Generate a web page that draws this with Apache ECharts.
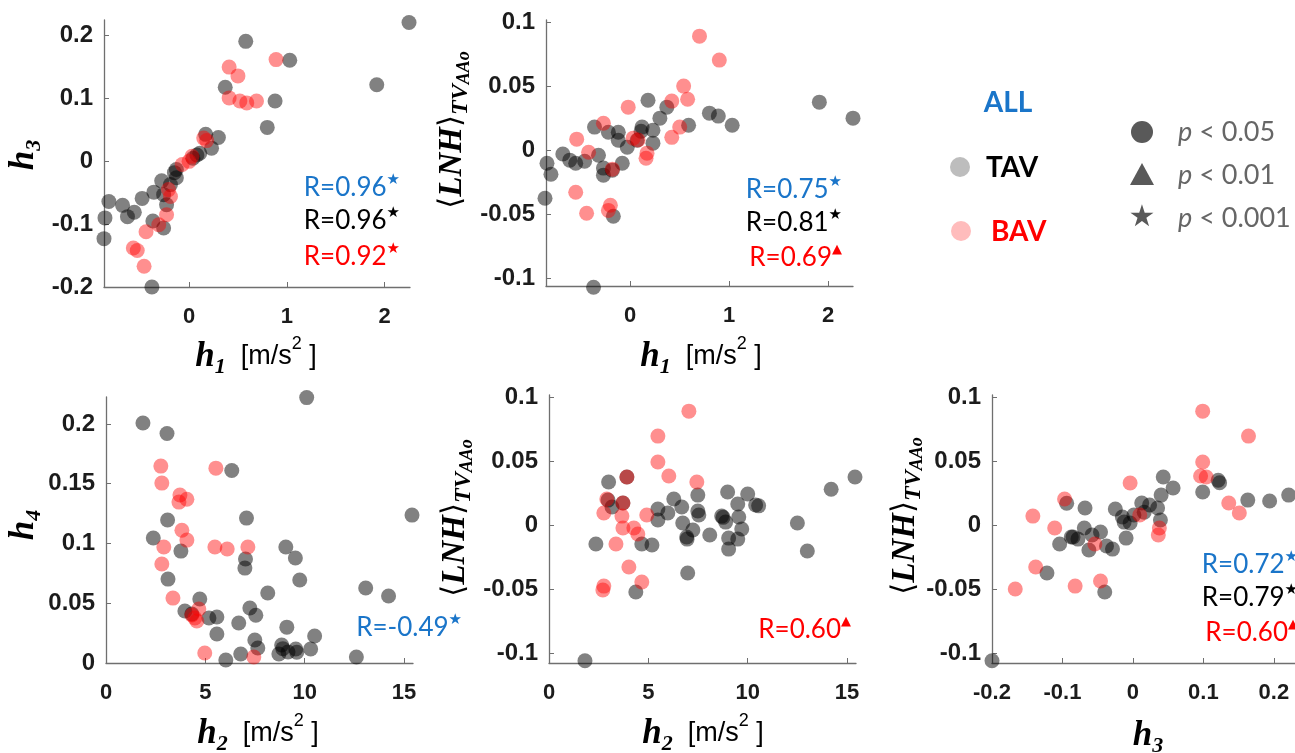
<!DOCTYPE html>
<html><head><meta charset="utf-8">
<script src="https://cdn.jsdelivr.net/npm/echarts@6/dist/echarts.min.js"></script>
<style>html,body{margin:0;padding:0;background:#fff}#c{width:1295px;height:753px}</style>
</head><body><div id="c"></div>
<script>
// ---------- DATA ----------
const h1Ticks = [0, 1, 2];
const h2Ticks = [0, 5, 10, 15];
const h3xTicks = [-0.2, -0.1, 0, 0.1, 0.2];
const h3yTicks = [-0.2, -0.1, 0, 0.1, 0.2];
const h4Ticks = [0, 0.05, 0.1, 0.15, 0.2];
const lnhTicks = [-0.1, -0.05, 0, 0.05, 0.1];

// Panel 1: h1 vs h3
const p1TAV = [[2.25,0.221],[0.58,0.191],[1.03,0.161],[1.92,0.122],[0.37,0.118],[0.88,0.096],[0.80,0.054],[0.17,0.043],[0.30,0.038],[0.23,0.021],[0.11,0.013],[0.08,0.010],[0.04,0.005],[-0.13,-0.013],[-0.15,-0.018],[-0.13,-0.026],[-0.28,-0.031],[-0.19,-0.037],[-0.26,-0.053],[-0.23,-0.069],[-0.36,-0.049],[-0.48,-0.059],[-0.68,-0.070],[-0.56,-0.081],[-0.63,-0.088],[-0.82,-0.064],[-0.86,-0.090],[-0.87,-0.123],[-0.37,-0.095],[-0.26,-0.106],[-0.38,-0.200]];
const p1BAV = [[0.89,0.162],[0.41,0.150],[0.50,0.136],[0.41,0.101],[0.52,0.096],[0.59,0.093],[0.69,0.096],[0.15,0.037],[0.18,0.033],[0.03,0.008],[0.00,0.000],[-0.07,-0.005],[-0.21,-0.045],[-0.19,-0.056],[-0.23,-0.085],[-0.31,-0.101],[-0.44,-0.112],[-0.57,-0.138],[-0.53,-0.142],[-0.46,-0.167]];

// Panel 2: h1 vs <LNH>
const p2TAV = [[2.25,0.025],[1.91,0.0375],[1.03,0.0195],[0.89,0.0266],[0.80,0.0289],[0.59,0.0195],[0.37,0.0336],[0.30,0.025],[0.18,0.039],[0.23,0.0156],[0.23,0.0055],[0.12,0.018],[0.11,0.0148],[0.07,0.0078],[-0.03,0.0023],[-0.12,0.014],[-0.12,0.0078],[-0.22,0.014],[-0.36,0.018],[-0.32,-0.004],[-0.27,-0.014],[-0.27,-0.0195],[-0.18,-0.0156],[-0.08,-0.0102],[-0.68,-0.003],[-0.61,-0.0078],[-0.55,-0.0102],[-0.46,-0.0086],[-0.84,-0.0102],[-0.80,-0.0188],[-0.86,-0.0375],[-0.17,-0.0516],[-0.37,-0.107]];
const p2BAV = [[0.70,0.089],[0.90,0.0703],[0.54,0.050],[0.58,0.0398],[0.42,0.0383],[0.50,0.018],[0.42,0.010],[-0.02,0.0336],[-0.27,0.021],[-0.54,0.0086],[-0.42,-0.0016],[0.03,0.0094],[0.08,0.008],[0.17,-0.0023],[0.16,-0.0063],[-0.18,-0.0148],[-0.55,-0.0328],[-0.44,-0.0492],[-0.20,-0.043],[-0.22,-0.047]];

// Panel 3: h2 vs h4
const p3TAV = [[10.1,0.222],[1.86,0.2007],[3.07,0.192],[6.33,0.161],[15.4,0.1237],[3.1,0.1196],[7.07,0.1212],[2.38,0.1045],[3.77,0.0936],[7.02,0.087],[6.99,0.0794],[9.05,0.097],[9.53,0.0878],[9.75,0.0694],[3.12,0.0702],[13.07,0.0627],[14.22,0.056],[8.14,0.0585],[4.72,0.0535],[3.97,0.0435],[4.32,0.041],[7.24,0.046],[7.54,0.040],[5.18,0.0376],[5.58,0.0385],[6.68,0.0334],[5.58,0.0242],[9.1,0.030],[10.5,0.0226],[7.49,0.0192],[7.64,0.0125],[8.84,0.015],[8.9,0.012],[8.7,0.0075],[9.16,0.0092],[9.55,0.0117],[9.6,0.009],[10.3,0.0117],[6.78,0.0075],[6.03,0.0025],[12.6,0.005]];
const p3BAV = [[5.53,0.163],[2.76,0.1647],[2.81,0.1505],[3.72,0.1405],[3.67,0.1346],[4.07,0.137],[3.82,0.111],[4.07,0.1028],[2.91,0.097],[5.48,0.097],[6.1,0.0953],[7.14,0.097],[2.81,0.0828],[3.37,0.0543],[4.67,0.0452],[4.32,0.0401],[4.47,0.0376],[4.57,0.0351],[4.97,0.0084],[7.44,0.005]];

// Panel 4: h2 vs <LNH>
const p4TAV = [[1.81,-0.106],[2.36,-0.0148],[3.0,0.0336],[2.97,0.0195],[3.17,0.0141],[3.72,0.0172],[3.92,0.0375],[4.67,-0.0148],[5.18,-0.0156],[4.37,-0.0523],[5.48,0.0125],[5.48,0.0039],[5.98,0.0094],[6.28,0.0203],[6.68,0.0141],[6.73,0.0016],[7.24,-0.0039],[6.93,-0.0094],[6.95,-0.011],[6.98,-0.0375],[7.49,0.0234],[7.49,0.011],[7.54,0.0078],[8.09,-0.0078],[8.69,0.007],[8.76,0.006],[8.89,0.0023],[8.99,0.0258],[9.04,-0.0102],[9.04,-0.0188],[9.5,0.0164],[9.55,0.0063],[9.5,-0.011],[9.7,-0.0031],[10.0,0.0242],[10.4,0.0156],[10.55,0.015],[12.5,0.0016],[13.0,-0.0203],[14.2,0.028],[15.4,0.0375]];
const p4BAV = [[7.04,0.089],[5.48,0.0695],[5.48,0.0492],[6.03,0.0383],[7.44,0.0336],[3.92,0.0375],[2.91,0.0203],[3.72,0.0172],[2.76,0.0094],[3.67,0.007],[4.92,0.0078],[3.72,-0.0023],[4.27,-0.0023],[4.47,-0.007],[3.37,-0.0148],[4.02,-0.0328],[4.67,-0.0445],[2.76,-0.0477],[2.71,-0.0508]];

// Panel 5: h3 vs <LNH>
const p5TAV = [[-0.2,-0.106],[-0.122,-0.0375],[-0.104,-0.0148],[-0.094,0.017],[-0.0875,-0.0094],[-0.085,-0.0094],[-0.078,-0.011],[-0.068,0.0133],[-0.069,-0.0023],[-0.0625,-0.0195],[-0.058,-0.0078],[-0.046,-0.0055],[-0.040,-0.0523],[-0.0375,-0.0164],[-0.029,-0.0188],[-0.025,0.0125],[-0.0097,-0.0102],[-0.015,0.0063],[-0.0125,0.0023],[-0.004,0.0016],[0.0014,0.0078],[0.0125,0.0172],[0.016,0.010],[0.0236,0.0156],[0.035,0.0133],[0.039,0.0039],[0.040,0.0234],[0.043,0.0375],[0.057,0.0289],[0.099,0.0258],[0.121,0.035],[0.123,0.033],[0.163,0.0195],[0.194,0.0188],[0.221,0.0234]];
const p5BAV = [[0.099,0.089],[0.164,0.0695],[0.099,0.0492],[0.096,0.0383],[0.104,0.0375],[0.136,0.0172],[0.151,0.0094],[-0.004,0.0328],[-0.097,0.0203],[-0.142,0.007],[-0.111,-0.0023],[-0.054,-0.0148],[0.0097,0.0078],[0.0375,-0.0023],[0.036,-0.0078],[-0.138,-0.0328],[-0.167,-0.050],[-0.082,-0.0477],[-0.046,-0.0437]];

// Correlation annotations
const rLabels = [
  {panel:0, items:[['R=0.96','★','all'],['R=0.96','★','tav'],['R=0.92','★','bav']]},
  {panel:1, items:[['R=0.75','★','all'],['R=0.81','★','tav'],['R=0.69','▲','bav']]},
  {panel:2, items:[['R=-0.49','★','all']]},
  {panel:3, items:[['R=0.60','▲','bav']]},
  {panel:4, items:[['R=0.72','★','all'],['R=0.79','★','tav'],['R=0.60','▲','bav']]}
];

// ---------- STYLE / LAYOUT ----------
const BLUE = '#1a75c9', RED = '#ff0000', BLACK = '#000000';
const groupColor = {all: BLUE, tav: BLACK, bav: RED};
const TAV_FILL = 'rgba(0,0,0,0.62)';
const BAV_FILL = 'rgba(255,0,0,0.55)';
const AXIS_C = '#6f6f6f';

const grids = [
  {left:104, top:20, width:306, height:267},
  {left:546, top:20, width:307, height:266},
  {left:106, top:397, width:307, height:266},
  {left:549, top:395, width:307, height:268},
  {left:992, top:395, width:310, height:268}
];
const xCfg = [
  {min:-0.87, max:2.26, ticks:h1Ticks},
  {min:-0.85, max:2.25, ticks:h1Ticks},
  {min:0, max:15.45, ticks:h2Ticks},
  {min:0, max:15.45, ticks:h2Ticks},
  {min:-0.2, max:0.23, ticks:h3xTicks}
];
const yCfg = [
  {min:-0.2, max:0.225, ticks:h3yTicks},
  {min:-0.106, max:0.1016, ticks:lnhTicks},
  {min:0, max:0.2225, ticks:h4Ticks},
  {min:-0.1078, max:0.1016, ticks:lnhTicks},
  {min:-0.1078, max:0.1016, ticks:lnhTicks}
];
function fmt(v){ const r = Math.round(v*1000)/1000; return String(r); }

const xAxis = xCfg.map((c,i)=>({
  gridIndex:i, type:'value', min:c.min, max:c.max,
  axisLine:{show:true, onZero:false, lineStyle:{color:AXIS_C, width:1.3}},
  axisTick:{show:true, inside:true, length:5, customValues:c.ticks, lineStyle:{color:AXIS_C}},
  axisLabel:{customValues:c.ticks, formatter:fmt, fontFamily:'Liberation Sans', fontWeight:'bold', fontSize:22, color:'#1c1c1c', margin:19},
  splitLine:{show:false}
}));
const yAxis = yCfg.map((c,i)=>({
  gridIndex:i, type:'value', min:c.min, max:c.max,
  axisLine:{show:true, onZero:false, lineStyle:{color:AXIS_C, width:1.3}},
  axisTick:{show:true, inside:true, length:5, customValues:c.ticks, lineStyle:{color:AXIS_C}},
  axisLabel:{customValues:c.ticks, formatter:fmt, fontFamily:'Liberation Sans', fontWeight:'bold', fontSize:24, color:'#1c1c1c', margin:11},
  splitLine:{show:false}
}));

const panels = [[p1TAV,p1BAV],[p2TAV,p2BAV],[p3TAV,p3BAV],[p4TAV,p4BAV],[p5TAV,p5BAV]];
const series = [];
panels.forEach((p,i)=>{
  series.push({type:'scatter', xAxisIndex:i, yAxisIndex:i, data:p[0], symbol:'circle', symbolSize:15, clip:false, itemStyle:{color:TAV_FILL}, silent:true, z:2});
  series.push({type:'scatter', xAxisIndex:i, yAxisIndex:i, data:p[1], symbol:'circle', symbolSize:15, clip:false, itemStyle:{color:BAV_FILL}, silent:true, z:3});
});

// ---------- TEXT ----------
const serifBI = {fontFamily:'Liberation Serif, DejaVu Serif', fontWeight:'bold', fontStyle:'italic'};
function hRich(sz){
  return {
    h:Object.assign({fontSize:sz, lineHeight:sz+8, fill:'#000'}, serifBI),
    sub:Object.assign({fontSize:Math.round(sz*0.62), lineHeight:Math.round(sz*0.62), verticalAlign:'bottom', fill:'#000'}, serifBI),
    u:{fontFamily:'Liberation Sans', fontSize:27, lineHeight:sz+8, fill:'#000'},
    sup:{fontFamily:'Liberation Sans', fontSize:18, lineHeight:14, verticalAlign:'top', fill:'#000'}
  };
}
const graphic = [];
function xTitle(cx, cy, idx, unit){
  const t = unit ? `{h|h}{sub|${idx}}{u|  [m/s}{sup|2}{u| ]}` : `{h|h}{sub|${idx}}`;
  graphic.push({type:'text', x:cx, y:cy, z:50, silent:true, style:{text:t, rich:hRich(35), align:'center', verticalAlign:'middle'}});
}
function yTitleH(cx, cy, idx){
  graphic.push({type:'text', x:cx, y:cy, rotation:Math.PI/2, z:50, silent:true, style:{text:`{h|h}{sub|${idx}}`, rich:hRich(35), align:'center', verticalAlign:'middle'}});
}
function yTitleLNH(cx, cy){
  const rich = {
    b:Object.assign({fontSize:33, lineHeight:42, fill:'#000'}, serifBI),
    br:{fontFamily:'DejaVu Serif', fontSize:31, lineHeight:42, fill:'#000'},
    s1:Object.assign({fontSize:24, lineHeight:26, verticalAlign:'bottom', fill:'#000'}, serifBI),
    s2:Object.assign({fontSize:18, lineHeight:13, verticalAlign:'bottom', fill:'#000'}, serifBI)
  };
  graphic.push({type:'text', x:cx, y:cy, rotation:Math.PI/2, z:50, silent:true, style:{text:'{br|⟨}{b|LNH}{br|⟩}{s1|TV}{s2|AAo}', rich, align:'center', verticalAlign:'middle'}});
}
xTitle(256, 357, 1, true);
xTitle(701, 357, 1, true);
xTitle(258, 734, 2, true);
xTitle(703, 734, 2, true);
xTitle(1148, 736, 3, false);
yTitleH(24, 155, 3);
yTitleH(24, 525, 4);
yTitleLNH(452, 130);
yTitleLNH(455, 518);
yTitleLNH(905, 516);

// R labels
const rPos = [
  {x:400, y:[188,221,257]},
  {x:842, y:[190,223,258]},
  {x:462, y:[628]},
  {x:851, y:[630]},
  {x:1298, y:[565,598,633]}
];
rLabels.forEach(g=>{
  const pos = rPos[g.panel];
  g.items.forEach((it,k)=>{
    const col = groupColor[it[2]];
    const supSize = it[1]==='▲' ? 13 : 15;
    graphic.push({type:'text', x:pos.x, y:pos.y[k], z:50, silent:true, style:{
      text:`{a|${it[0]}}{s|${it[1]}}`,
      rich:{a:{fontFamily:'Lato', fontSize:26, lineHeight:30, fill:col},
            s:{fontFamily:'DejaVu Sans', fontSize:supSize, lineHeight:14, verticalAlign:'top', fill:col}},
      align:'right', verticalAlign:'middle'}});
  });
});

// Legend block
graphic.push({type:'text', x:1008, y:103, z:50, silent:true, style:{text:'ALL', fontFamily:'Lato', fontWeight:'bold', fontSize:28, fill:BLUE, align:'center', verticalAlign:'middle'}});
graphic.push({type:'circle', shape:{cx:960, cy:167, r:10}, style:{fill:'#bdbdbd'}, silent:true, z:50});
graphic.push({type:'text', x:986, y:168, z:50, silent:true, style:{text:'TAV', fontFamily:'Lato', fontWeight:'bold', fontSize:28, fill:BLACK, align:'left', verticalAlign:'middle'}});
graphic.push({type:'circle', shape:{cx:961, cy:231, r:10}, style:{fill:'#ffbcbc'}, silent:true, z:50});
graphic.push({type:'text', x:991, y:232, z:50, silent:true, style:{text:'BAV', fontFamily:'Lato', fontWeight:'bold', fontSize:28, fill:RED, align:'left', verticalAlign:'middle'}});
const PG = '#595959';
graphic.push({type:'circle', shape:{cx:1142, cy:132, r:11}, style:{fill:PG}, silent:true, z:50});
graphic.push({type:'polygon', shape:{points:[[1130,185],[1154,185],[1142,163]]}, style:{fill:PG}, silent:true, z:50});
graphic.push({type:'text', x:1142, y:218, z:50, silent:true, style:{text:'★', fontFamily:'DejaVu Sans', fontSize:30, fill:PG, align:'center', verticalAlign:'middle'}});
[['0.05',132],['0.01',175],['0.001',218]].forEach(p=>{
  graphic.push({type:'text', x:1178, y:p[1], z:50, silent:true, style:{
    text:`{i|p}{t| < ${p[0]}}`,
    rich:{i:{fontFamily:'Lato', fontStyle:'italic', fontSize:27, fill:'#666'}, t:{fontFamily:'Lato', fontSize:27, fill:'#666'}},
    align:'left', verticalAlign:'middle'}});
});

const chart = echarts.init(document.getElementById('c'), null, {renderer:'canvas'});
chart.setOption({
  animation:false,
  backgroundColor:'#ffffff',
  grid:grids,
  xAxis, yAxis, series, graphic
});
</script>
</body></html>
